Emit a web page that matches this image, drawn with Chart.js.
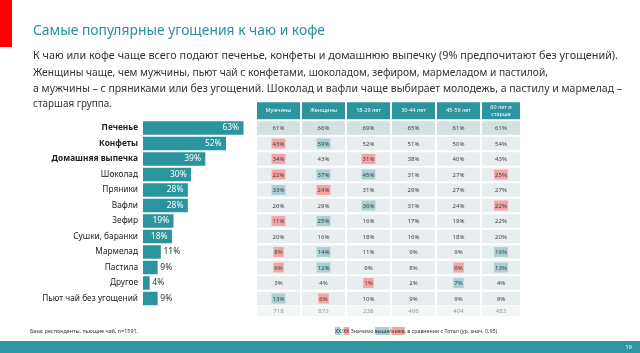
<!DOCTYPE html>
<html>
<head>
<meta charset="utf-8">
<script src="https://cdn.jsdelivr.net/npm/chart.js@4"></script>
<style>
  html, body { margin:0; padding:0; background:#fff; }
  body { width:640px; height:353px; position:relative; overflow:hidden; font-family:"Noto Sans", "Open Sans", sans-serif; }
  #c { position:absolute; left:0; top:0; }
  .abs { position:absolute; white-space:nowrap; }
  .fit { transform-origin:0 50%; }
  #redblock { left:0; top:0; width:12px; height:47px; background:#ff0000; }
  #title { left:33px; top:19px; font-size:14.5px; color:#2a8f9b; line-height:20px; }
  .para { left:33px; font-size:11px; color:#333; line-height:14px; }
  #foot { left:30px; top:327px; font-size:5.5px; color:#333; }
  #legend { left:335px; top:327px; font-size:5.5px; color:#333; }
  .hi { background:#a9d0d4; }
  .lo { background:#f4a5a5; }
  #bottombar { left:0; top:341px; width:640px; height:12px; background:#2e96a0; }
  #page { right:8px; top:343px; font-size:6px; color:#fff; }
</style>
</head>
<body>
<canvas id="c" width="640" height="353"></canvas>
<div id="redblock" class="abs"></div>
<div id="title" class="abs fit" data-w="292">Самые популярные угощения к чаю и кофе</div>
<div class="abs para fit" data-w="585" style="top:48px">К чаю или кофе чаще всего подают печенье, конфеты и домашнюю выпечку (9% предпочитают без угощений).</div>
<div class="abs para fit" data-w="515" style="top:65px">Женщины чаще, чем мужчины, пьют чай с конфетами, шоколадом, зефиром, мармеладом и пастилой,</div>
<div class="abs para fit" data-w="589" style="top:81px">а мужчины – с пряниками или без угощений. Шоколад и вафли чаще выбирает молодежь, а пастилу и мармелад –</div>
<div class="abs para fit" data-w="79" style="top:96px">старшая группа.</div>
<div id="foot" class="abs fit" data-w="108">База: респонденты, пьющие чай, n=1591.</div>
<div id="legend" class="abs fit" data-w="162"><span class="hi">XX</span>/<span class="lo">XX</span> Значимо <span class="hi">выше</span>/<span class="lo">ниже</span>, в сравнении с Тотал (ур. знач. 0,95)</div>
<div id="bottombar" class="abs"></div>
<div id="page" class="abs">19</div>
<script>
// ---- data ----
const categories = ['Печенье','Конфеты','Домашняя выпечка','Шоколад','Пряники','Вафли','Зефир','Сушки, баранки','Мармелад','Пастила','Другое','Пьют чай без угощений'];
const totals = [63,52,39,30,28,28,19,18,11,9,4,9];
const boldCount = 3;

const colHeaders = [['Мужчины'],['Женщины'],['18-29 лет'],['30-44 лет'],['45-59 лет'],['60 лет и','старше']];
const men    = [61,43,34,22,33,26,11,20,8,6,3,13];
const women  = [66,59,43,37,24,29,25,16,14,12,4,6];
const age1829= [69,52,31,45,31,36,16,18,11,9,1,10];
const age3044= [65,51,38,31,29,31,17,16,9,8,2,9];
const age4559= [61,50,40,27,27,24,19,18,9,6,7,9];
const age60  = [61,54,43,25,27,22,22,20,16,13,4,9];
// significance: h = higher, l = lower, '' = none
const menSig    = ['','l','l','l','h','','l','','l','l','','h'];
const womenSig  = ['','h','','h','l','','h','','h','h','','l'];
const age1829Sig= ['','','l','h','','h','','','','','l',''];
const age3044Sig= ['','','','','','','','','','','',''];
const age4559Sig= ['','','','','','','','','','l','h',''];
const age60Sig  = ['','','','l','','l','','','h','h','',''];
const baseN = [718,873,238,466,404,483];

const columns = [men,women,age1829,age3044,age4559,age60];
const sigs = [menSig,womenSig,age1829Sig,age3044Sig,age4559Sig,age60Sig];

// fit text lines to the reference widths
document.querySelectorAll('.fit').forEach(el=>{
  const target = parseFloat(el.dataset.w);
  const w = el.getBoundingClientRect().width;
  if (w > 0) el.style.transform = 'scaleX(' + (target / w) + ')';
});

const FONT = '"Noto Sans", "Open Sans", sans-serif';
const TEAL = '#2c949e';

const tablePlugin = {
  id:'tablePlugin',
  afterDatasetsDraw(chart){
    const ctx = chart.ctx;
    const y = chart.scales.y;
    // bar value labels
    const meta = chart.getDatasetMeta(0);
    ctx.save();
    ctx.font = '8.5px ' + FONT;
    ctx.textBaseline = 'middle';
    meta.data.forEach((bar,i)=>{
      const v = totals[i];
      if (v >= 18){
        ctx.fillStyle = '#fff'; ctx.textAlign = 'right';
        ctx.fillText(v + '%', bar.x - 4, bar.y);
      } else {
        ctx.fillStyle = '#333'; ctx.textAlign = 'left';
        ctx.fillText(v + '%', bar.x + 3, bar.y);
      }
    });
    // table
    const colX = [[257,300],[302,345],[347,390],[392,435],[437,480],[482,520]];
    const step = y.getPixelForValue(1) - y.getPixelForValue(0);
    const c0 = y.getPixelForValue(0);
    // header
    const hTop = c0 - step/2 - 18, hBot = c0 - step/2 - 1;
    colX.forEach((cx,j)=>{
      ctx.fillStyle = TEAL;
      ctx.fillRect(cx[0], hTop, cx[1]-cx[0], hBot-hTop);
      ctx.fillStyle = '#fff';
      ctx.font = '5.5px ' + FONT;
      ctx.textAlign = 'center';
      const lines = colHeaders[j];
      const mid = (cx[0]+cx[1])/2, my = (hTop+hBot)/2;
      lines.forEach((t,k)=>{
        ctx.fillText(t, mid, my + (k - (lines.length-1)/2)*6.5);
      });
    });
    // body rows
    for (let i=0;i<categories.length;i++){
      const cy = y.getPixelForValue(i);
      colX.forEach((cx,j)=>{
        ctx.fillStyle = i===0 ? '#d5e0e3' : '#e8eef0';
        ctx.fillRect(cx[0], cy - step/2 + 1, cx[1]-cx[0], step - 2);
        const txt = columns[j][i] + '%';
        ctx.font = '6px ' + FONT;
        const w = ctx.measureText(txt).width;
        const mid = (cx[0]+cx[1])/2;
        const s = sigs[j][i];
        if (s){
          ctx.fillStyle = s==='h' ? '#a9d0d4' : '#f4a5a5';
          ctx.fillRect(mid - w/2 - 1, cy - 5, w + 2, 10);
        }
        ctx.fillStyle = '#404040';
        ctx.textAlign = 'center';
        ctx.fillText(txt, mid, cy + 0.5);
      });
    }
    // base row
    const by = y.getPixelForValue(categories.length-1) + step*0.8;
    colX.forEach((cx,j)=>{
      ctx.fillStyle = '#f3f6f7';
      ctx.fillRect(cx[0], by - 5, cx[1]-cx[0], 10);
      ctx.fillStyle = '#9a9a9a';
      ctx.font = '6px ' + FONT;
      ctx.textAlign = 'center';
      ctx.fillText(String(baseN[j]), (cx[0]+cx[1])/2, by);
    });
    ctx.restore();
  }
};

new Chart(document.getElementById('c'), {
  type:'bar',
  data:{ labels:categories, datasets:[{ data:totals, backgroundColor:TEAL, borderWidth:0, barThickness:13 }]},
  options:{
    indexAxis:'y',
    responsive:false,
    animation:false,
    layout:{ padding:{ top:120.25, bottom:46.75, left:0, right:338 } },
    scales:{
      x:{ display:false, min:0, max:100 },
      y:{
        grid:{ display:false, drawTicks:false },
        border:{ display:false },
        ticks:{
          color:'#222',
          padding:5,
          font:(c)=>({ family:FONT, size:8.3, weight: c.index < boldCount ? 'bold' : 'normal' })
        },
        afterFit:(s)=>{ s.width = 143; }
      }
    },
    plugins:{ legend:{display:false}, tooltip:{enabled:false} }
  },
  plugins:[tablePlugin]
});
</script>
</body>
</html>
